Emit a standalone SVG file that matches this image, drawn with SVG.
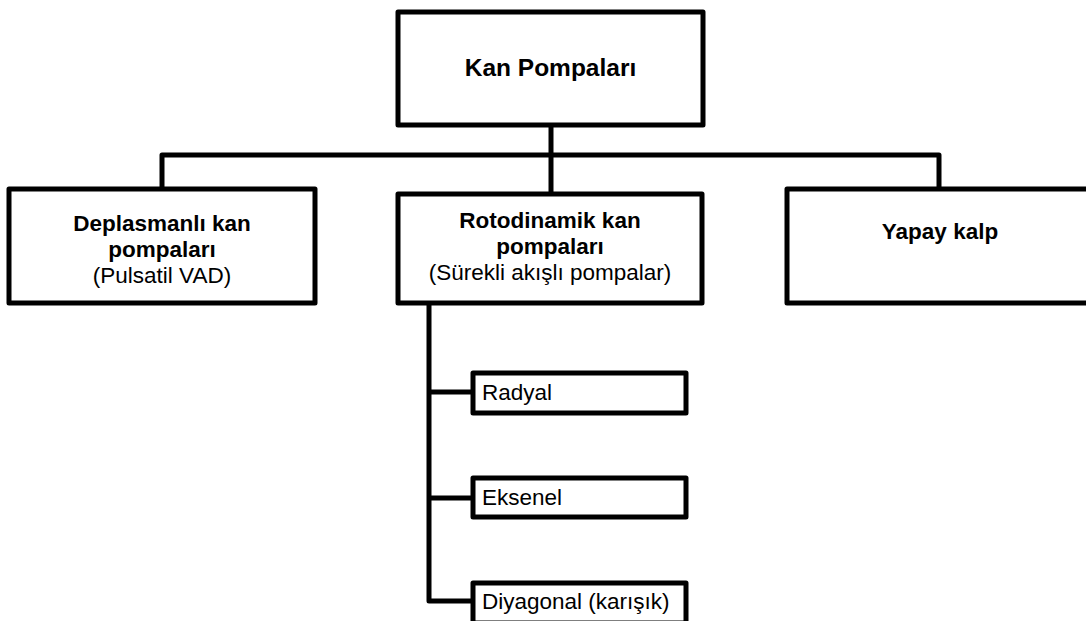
<svg xmlns="http://www.w3.org/2000/svg" width="1086" height="621" viewBox="0 0 1086 621">
<style>
.box{fill:#fff;stroke:#000;stroke-width:5;stroke-linejoin:round}
.ln{fill:none;stroke:#000;stroke-width:5;stroke-linejoin:round}
text{font-family:"Liberation Sans",Arial,sans-serif;fill:#000}
.b{font-weight:bold;font-size:22.5px;text-anchor:middle}
.r{font-size:22.5px}
.rc{font-size:22.5px;text-anchor:middle}
</style>
<rect width="1086" height="621" fill="#fff"/>
<g id="connectors">
<path class="ln" d="M162,189 V155 H939 V189"/>
<path class="ln" d="M551,125 V194"/>
<path class="ln" d="M429,303 V601 H473"/>
<path class="ln" d="M429,392 H473"/>
<path class="ln" d="M429,498 H473"/>
</g>
<g id="n-kan-pompalari">
<rect class="box" x="398" y="12" width="305" height="113"/>
<text class="b" x="550.5" y="76" style="font-size:24.5px">Kan Pompaları</text>
</g>
<g id="n-deplasmanli">
<rect class="box" x="9" y="189" width="306" height="114"/>
<text class="b" x="162" y="231">Deplasmanlı kan</text>
<text class="b" x="162" y="257">pompaları</text>
<text class="rc" x="162" y="283">(Pulsatil VAD)</text>
</g>
<g id="n-rotodinamik">
<rect class="box" x="398" y="194" width="304" height="109"/>
<text class="b" x="550" y="228">Rotodinamik kan</text>
<text class="b" x="550" y="254">pompaları</text>
<text class="rc" x="550" y="280">(Sürekli akışlı pompalar)</text>
</g>
<g id="n-yapay-kalp">
<rect class="box" x="787" y="189" width="305" height="114"/>
<text class="b" x="940" y="239">Yapay kalp</text>
</g>
<g id="n-radyal">
<rect class="box" x="473" y="373" width="213" height="40"/>
<text class="r" x="482" y="400">Radyal</text>
</g>
<g id="n-eksenel">
<rect class="box" x="473" y="478" width="213" height="39"/>
<text class="r" x="482" y="505">Eksenel</text>
</g>
<g id="n-diyagonal">
<rect class="box" x="473" y="583" width="213" height="40"/>
<text class="r" x="482" y="609">Diyagonal (karışık)</text>
</g>
</svg>
